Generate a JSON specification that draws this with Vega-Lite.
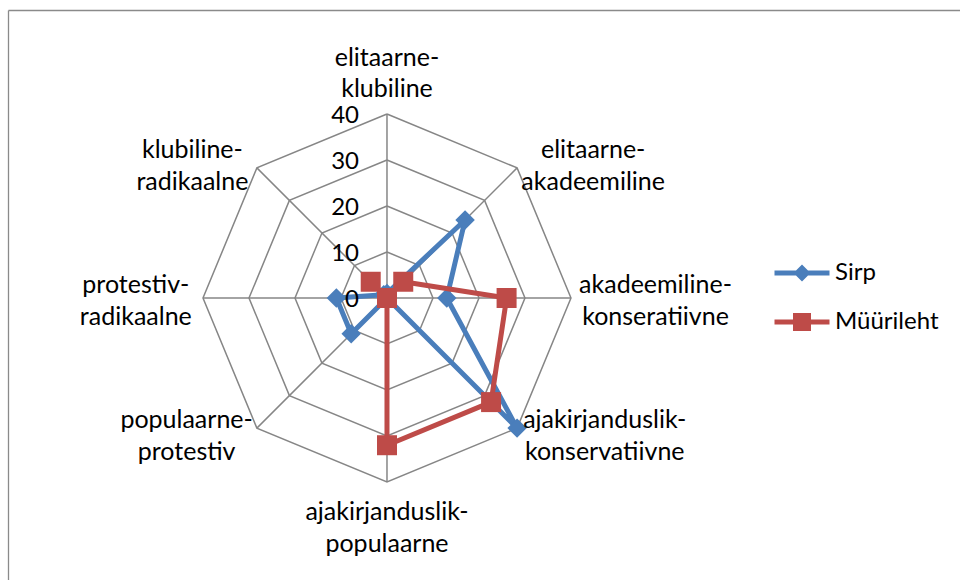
{
  "$schema": "https://vega.github.io/schema/vega-lite/v6.json",
  "width": 952,
  "height": 570,
  "autosize": {"type": "none"},
  "padding": {"left": 8, "top": 10, "right": 0, "bottom": 0},
  "background": "white",
  "config": {"view": {"stroke": null}, "font": "Lato"},
  "datasets": {
    "rings": [
      {"ring": 10, "k": [0, 1, 2, 3, 4, 5, 6, 7, 8]},
      {"ring": 20, "k": [0, 1, 2, 3, 4, 5, 6, 7, 8]},
      {"ring": 30, "k": [0, 1, 2, 3, 4, 5, 6, 7, 8]},
      {"ring": 40, "k": [0, 1, 2, 3, 4, 5, 6, 7, 8]}
    ],
    "axes": [
      {"k": 0, "name": ["elitaarne-", "klubiline"]},
      {"k": 1, "name": ["elitaarne-", "akadeemiline"]},
      {"k": 2, "name": ["akadeemiline-", "konseratiivne"]},
      {"k": 3, "name": ["ajakirjanduslik-", "konservatiivne"]},
      {"k": 4, "name": ["ajakirjanduslik-", "populaarne"]},
      {"k": 5, "name": ["populaarne-", "protestiv"]},
      {"k": 6, "name": ["protestiv-", "radikaalne"]},
      {"k": 7, "name": ["klubiline-", "radikaalne"]}
    ],
    "ticks": [{"v": 0}, {"v": 10}, {"v": 20}, {"v": 30}, {"v": 40}],
    "series": [
      {"series": "Sirp", "k": 0, "value": 1},
      {"series": "Sirp", "k": 1, "value": 24},
      {"series": "Sirp", "k": 2, "value": 13},
      {"series": "Sirp", "k": 3, "value": 40},
      {"series": "Sirp", "k": 4, "value": 0},
      {"series": "Sirp", "k": 5, "value": 11},
      {"series": "Sirp", "k": 6, "value": 11},
      {"series": "Sirp", "k": 7, "value": 1},
      {"series": "Sirp", "k": 8, "value": 1},
      {"series": "Müürileht", "k": 0, "value": 0},
      {"series": "Müürileht", "k": 1, "value": 5},
      {"series": "Müürileht", "k": 2, "value": 26},
      {"series": "Müürileht", "k": 3, "value": 32},
      {"series": "Müürileht", "k": 4, "value": 32},
      {"series": "Müürileht", "k": 5, "value": 0},
      {"series": "Müürileht", "k": 6, "value": 0},
      {"series": "Müürileht", "k": 7, "value": 5},
      {"series": "Müürileht", "k": 8, "value": 0}
    ]
  },
  "encoding": {
    "x": {
      "field": "x", "type": "quantitative",
      "scale": {"domain": [-82.39, 124.57], "nice": false, "zero": false},
      "axis": {"orient": "top", "domain": true, "ticks": false, "labels": false, "grid": false, "title": null, "domainColor": "#8a8a8a", "domainWidth": 1.3}
    },
    "y": {
      "field": "y", "type": "quantitative",
      "scale": {"domain": [-61.3, 62.61], "nice": false, "zero": false},
      "axis": {"orient": "left", "domain": true, "ticks": false, "labels": false, "grid": false, "title": null, "domainColor": "#8a8a8a", "domainWidth": 1.3}
    }
  },
  "layer": [
    {
      "data": {"name": "rings"},
      "transform": [
        {"flatten": ["k"]},
        {"calculate": "datum.ring * sin(datum.k * PI / 4)", "as": "x"},
        {"calculate": "datum.ring * cos(datum.k * PI / 4)", "as": "y"}
      ],
      "mark": {"type": "line", "color": "#868686", "strokeWidth": 1.5},
      "encoding": {"detail": {"field": "ring"}, "order": {"field": "k", "type": "quantitative"}}
    },
    {
      "data": {"name": "rings"},
      "transform": [
        {"flatten": ["k"]},
        {"filter": "datum.ring == 40 && datum.k < 8"},
        {"calculate": "datum.ring * sin(datum.k * PI / 4)", "as": "x"},
        {"calculate": "datum.ring * cos(datum.k * PI / 4)", "as": "y"}
      ],
      "mark": {"type": "rule", "color": "#868686", "strokeWidth": 1.5},
      "encoding": {"x2": {"datum": 0}, "y2": {"datum": 0}}
    },
    {
      "data": {"name": "series"},
      "transform": [
        {"filter": "datum.series == 'Sirp'"},
        {"calculate": "datum.value * sin(datum.k * PI / 4)", "as": "x"},
        {"calculate": "datum.value * cos(datum.k * PI / 4)", "as": "y"}
      ],
      "mark": {"type": "line", "color": "#4A7EBB", "strokeWidth": 5, "strokeJoin": "round", "strokeCap": "round"},
      "encoding": {"order": {"field": "k", "type": "quantitative"}}
    },
    {
      "data": {"name": "series"},
      "transform": [
        {"filter": "datum.series == 'Sirp' && datum.k < 8"},
        {"calculate": "datum.value * sin(datum.k * PI / 4)", "as": "x"},
        {"calculate": "datum.value * cos(datum.k * PI / 4)", "as": "y"}
      ],
      "mark": {"type": "point", "shape": "diamond", "filled": true, "size": 380, "opacity": 1, "strokeWidth": 0},
      "encoding": {
        "color": {
          "field": "series", "type": "nominal",
          "scale": {"domain": ["Sirp", "Müürileht"], "range": ["#4A7EBB", "#BE4B48"]},
          "legend": {
            "orient": "none", "legendX": 769, "legendY": 238, "title": null, "padding": 0,
            "symbolSize": 2500, "symbolStrokeWidth": 0, "symbolOpacity": 1,
            "labelFont": "Lato", "labelFontSize": 24, "labelColor": "#000000", "labelOffset": 8, "rowPadding": 12,
            "encode": {
              "symbols": {
                "update": {
                  "shape": {"signal": "datum.value === 'Sirp' ? 'M-1.1,-0.1L-0.24,-0.1L0,-0.34L0.24,-0.1L1.1,-0.1L1.1,0.1L0.24,0.1L0,0.34L-0.24,0.1L-1.1,0.1Z' : 'M-1.1,-0.1L-0.36,-0.1L-0.36,-0.36L0.36,-0.36L0.36,-0.1L1.1,-0.1L1.1,0.1L0.36,0.1L0.36,0.36L-0.36,0.36L-0.36,0.1L-1.1,0.1Z'"},
                  "fill": {"scale": "color", "field": "value"},
                  "strokeWidth": {"value": 0},
                  "opacity": {"value": 1}
                }
              }
            }
          }
        }
      }
    },
    {
      "data": {"name": "series"},
      "transform": [
        {"filter": "datum.series == 'Müürileht'"},
        {"calculate": "datum.value * sin(datum.k * PI / 4)", "as": "x"},
        {"calculate": "datum.value * cos(datum.k * PI / 4)", "as": "y"}
      ],
      "mark": {"type": "line", "color": "#BE4B48", "strokeWidth": 5, "strokeJoin": "round", "strokeCap": "round"},
      "encoding": {"order": {"field": "k", "type": "quantitative"}}
    },
    {
      "data": {"name": "series"},
      "transform": [
        {"filter": "datum.series == 'Müürileht' && datum.k < 8"},
        {"calculate": "datum.value * sin(datum.k * PI / 4)", "as": "x"},
        {"calculate": "datum.value * cos(datum.k * PI / 4)", "as": "y"}
      ],
      "mark": {"type": "point", "shape": "square", "filled": true, "size": 400, "opacity": 1, "strokeWidth": 0},
      "encoding": {
        "color": {
          "field": "series", "type": "nominal",
          "scale": {"domain": ["Sirp", "Müürileht"], "range": ["#4A7EBB", "#BE4B48"]},
          "legend": {
            "orient": "none", "legendX": 769, "legendY": 238, "title": null, "padding": 0,
            "symbolSize": 2500, "symbolStrokeWidth": 0, "symbolOpacity": 1,
            "labelFont": "Lato", "labelFontSize": 24, "labelColor": "#000000", "labelOffset": 8, "rowPadding": 12,
            "encode": {
              "symbols": {
                "update": {
                  "shape": {"signal": "datum.value === 'Sirp' ? 'M-1.1,-0.1L-0.24,-0.1L0,-0.34L0.24,-0.1L1.1,-0.1L1.1,0.1L0.24,0.1L0,0.34L-0.24,0.1L-1.1,0.1Z' : 'M-1.1,-0.1L-0.36,-0.1L-0.36,-0.36L0.36,-0.36L0.36,-0.1L1.1,-0.1L1.1,0.1L0.36,0.1L0.36,0.36L-0.36,0.36L-0.36,0.1L-1.1,0.1Z'"},
                  "fill": {"scale": "color", "field": "value"},
                  "strokeWidth": {"value": 0},
                  "opacity": {"value": 1}
                }
              }
            }
          }
        }
      }
    },
    {
      "data": {"name": "ticks"},
      "transform": [
        {"calculate": "0", "as": "x"},
        {"calculate": "datum.v", "as": "y"}
      ],
      "mark": {"type": "text", "align": "right", "baseline": "middle", "dx": -28, "dy": 2, "fontSize": 24, "font": "Lato", "color": "#000000"},
      "encoding": {"text": {"field": "v", "type": "quantitative"}}
    },
    {
      "data": {"name": "axes"},
      "transform": [
        {"filter": "datum.k != 0 && datum.k != 4"},
        {"calculate": "datum.k * PI / 4", "as": "a"},
        {"calculate": "min(14, max(length(datum.name[0]), length(datum.name[1])))", "as": "len"},
        {"calculate": "42 * sin(datum.a) + (sin(datum.a) > 0.1 ? 1 : (sin(datum.a) < -0.1 ? -1 : 0)) * datum.len * 1.26", "as": "x"},
        {"calculate": "41.5 * cos(datum.a) + 2.8", "as": "y"}
      ],
      "mark": {"type": "text", "align": "center", "baseline": "middle", "lineHeight": 32, "fontSize": 25, "font": "Lato", "color": "#000000"},
      "encoding": {"text": {"field": "name", "type": "nominal"}}
    },
    {
      "data": {"name": "axes"},
      "transform": [
        {"filter": "datum.k == 0"},
        {"calculate": "0", "as": "x"},
        {"calculate": "42", "as": "y"}
      ],
      "mark": {"type": "text", "align": "center", "baseline": "middle", "dy": -47, "lineHeight": 31, "fontSize": 25, "font": "Lato", "color": "#000000"},
      "encoding": {"text": {"field": "name", "type": "nominal"}}
    },
    {
      "data": {"name": "axes"},
      "transform": [
        {"filter": "datum.k == 4"},
        {"calculate": "0", "as": "x"},
        {"calculate": "-42", "as": "y"}
      ],
      "mark": {"type": "text", "align": "center", "baseline": "middle", "dy": 21, "lineHeight": 32, "fontSize": 25, "font": "Lato", "color": "#000000"},
      "encoding": {"text": {"field": "name", "type": "nominal"}}
    }
  ]
}
